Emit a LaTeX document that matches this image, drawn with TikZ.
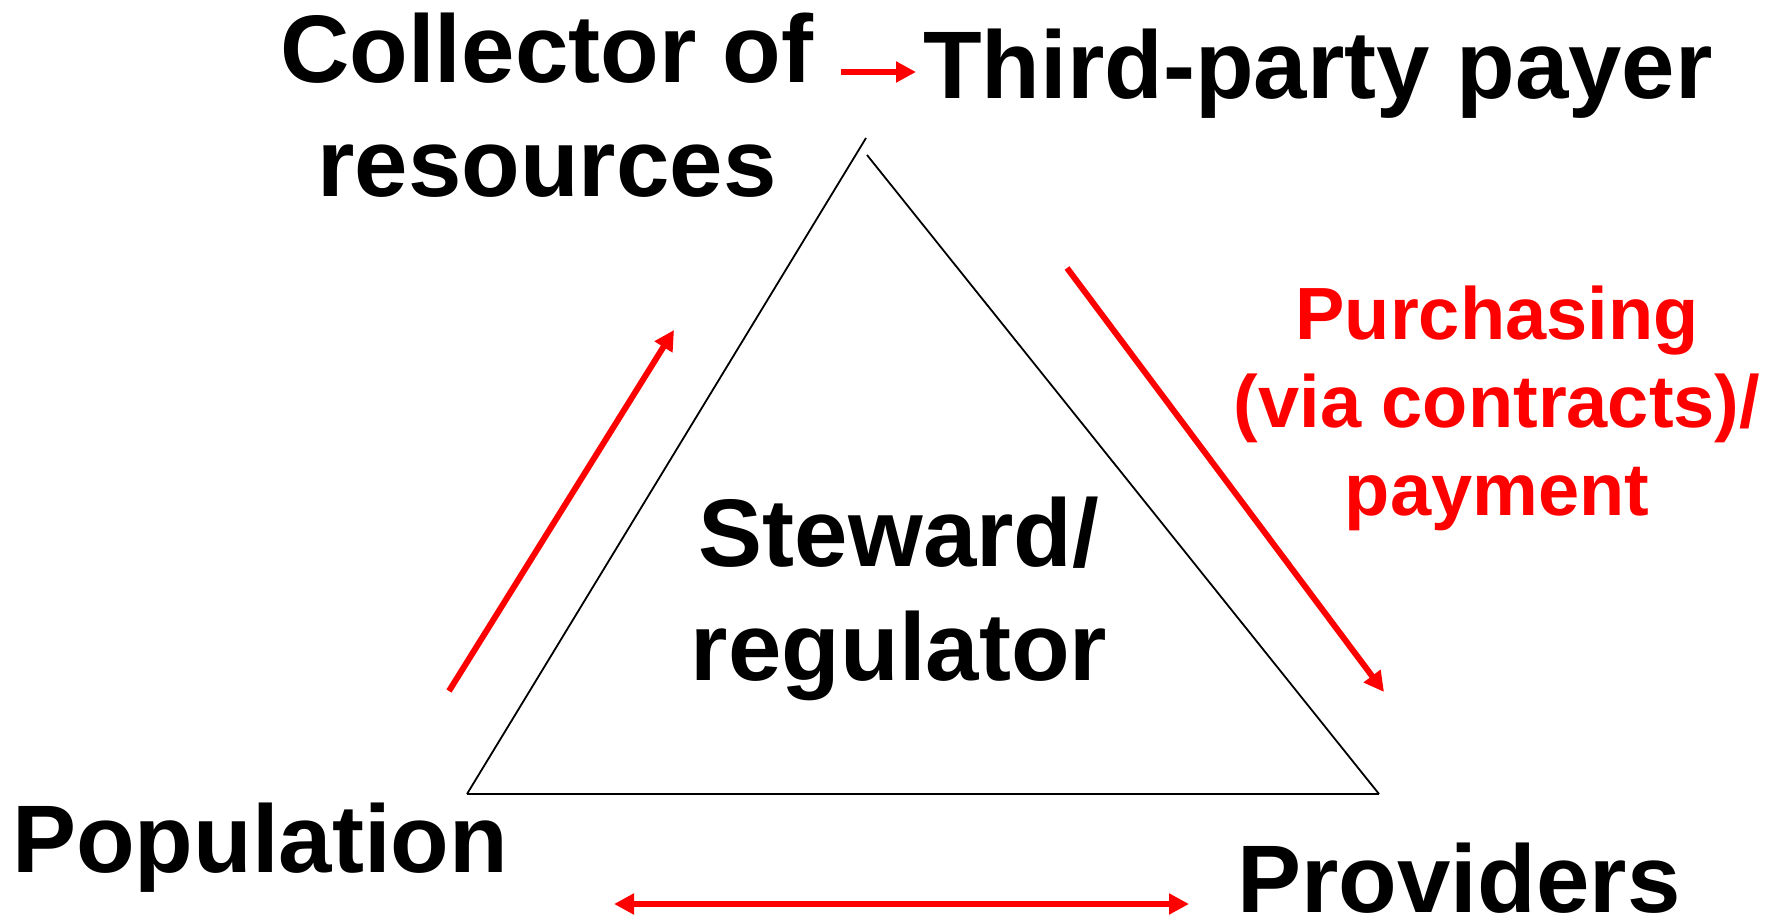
\documentclass[tikz,border=0pt]{standalone}
\usepackage{fontspec}
\setmainfont{Liberation Sans}
\usetikzlibrary{arrows.meta}
\definecolor{pptred}{RGB}{255,0,0}
\begin{document}
\begin{tikzpicture}[x=0.5pt,y=-0.5pt,
  lbl/.style={font=\bfseries\fontsize{48}{57}\selectfont, align=center, inner sep=0pt, anchor=base},
  redlbl/.style={font=\bfseries\fontsize{37}{44}\selectfont, text=pptred, align=center, inner sep=0pt, anchor=base},
  redarrow/.style={draw=pptred, line width=3pt, -{Triangle[length=10pt,width=10pt]}},
  redboth/.style={draw=pptred, line width=3pt, {Triangle[length=10pt,width=10pt]}-{Triangle[length=10pt,width=10pt]}},
  tri/.style={draw=black, line width=0.9pt}]
\useasboundingbox (0,0) rectangle (1778,919);
% labels (base anchor = baseline of last line)
\node[lbl] (collector) at (547,197) {Collector of\\resources};
\node[lbl] (payer) at (1318,99) {Third-party payer};
\node[lbl] (steward) at (899,680) {Steward/\\regulator};
\node[lbl] (population) at (260,872) {Population};
\node[lbl] (providers) at (1459,912) {Providers};
\node[redlbl] (purchasing) at (1497,516) {Purchasing\\(via contracts)/\\payment};
% triangle
\coordinate (tl) at (866,138);
\coordinate (tr) at (867,155);
\coordinate (bl) at (467,794);
\coordinate (br) at (1379,794);
\draw[tri] (bl) -- (tl);
\draw[tri] (tr) -- (br);
\draw[tri] (bl) -- (br);
% red arrows
\coordinate (a1s) at (841,72);
\coordinate (a1e) at (916,72);
\draw[redarrow] (a1s) -- (a1e);
\coordinate (a2s) at (449,691);
\coordinate (a2e) at (674,330);
\draw[redarrow] (a2s) -- (a2e);
\coordinate (a3s) at (1067,268);
\coordinate (a3e) at (1384,692);
\draw[redarrow] (a3s) -- (a3e);
\coordinate (a4s) at (614,904);
\coordinate (a4e) at (1189,904);
\draw[redboth] (a4s) -- (a4e);
\end{tikzpicture}
\end{document}
